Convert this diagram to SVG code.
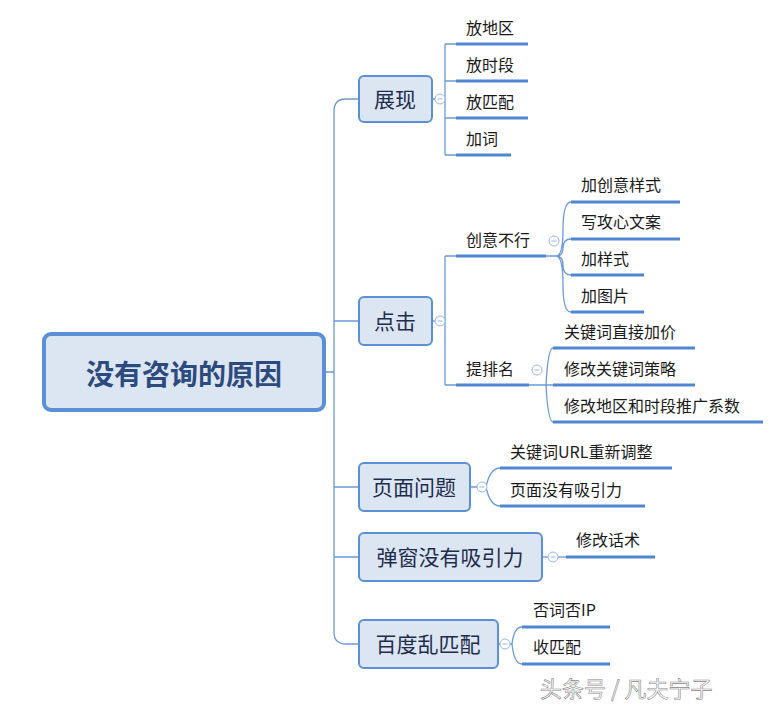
<svg xmlns="http://www.w3.org/2000/svg" width="773" height="712" viewBox="0 0 773 712">
<defs>
<g id="m"><circle r="5" fill="#fff" stroke="#9db5e0" stroke-width="1"/><line x1="-2.5" y1="0" x2="2.5" y2="0" stroke="#9db5e0" stroke-width="1"/></g>
</defs>
<style>
.c{fill:none;stroke:#6a9ad8;stroke-width:1.3}
.u{stroke:#4f86d2;stroke-width:3}
.b{fill:#dce6f2;stroke:#5b8fd6;stroke-width:2}
.t{font-family:"Microsoft YaHei","Noto Sans CJK SC",sans-serif;font-size:16px;fill:#1a1a1a}
.l{font-family:"Microsoft YaHei","Noto Sans CJK SC",sans-serif;font-size:21px;fill:#1f2d4d;text-anchor:middle}
</style>
<rect width="773" height="712" fill="#fff"/>
<g id="connectors">
<path class="c" d="M324,372H334M359,99H346Q334,99 334,111V632Q334,644 346,644H359M334,321H359M334,487H359M334,557H359"/>
<path class="c" d="M432,99H445M445,44V155M445,44H456M445,81H456M445,118H456M445,155H456"/>
<path class="c" d="M432,321H445M445,256V385M445,256H456M445,385H456"/>
<path class="c" d="M546,256H556M556,256Q563,256 563,230Q563,202 571,202M556,256Q563,256 563,248Q563,239 571,239M556,256Q563,256 563,265Q563,275 571,275M556,256Q563,256 563,285Q563,312 571,312"/>
<path class="c" d="M529,385H546M546,385Q548,348 553,348M546,385H553M546,385Q548,422 553,422"/>
<path class="c" d="M470,487H486M486,487Q490,468 500,468M486,487Q490,506 500,506"/>
<path class="c" d="M542,557H566"/>
<path class="c" d="M498,644H512M512,644Q514,627 522,627M512,644Q514,664 522,664"/>
</g>
<g id="root">
<rect x="44" y="334" width="280" height="76" rx="7" fill="#dce6f2" stroke="#5b8fd6" stroke-width="4"/>
<text x="184" y="385" text-anchor="middle" font-family="Microsoft YaHei,'Noto Sans CJK SC',sans-serif" font-size="28" font-weight="bold" fill="#2c4a7e">没有咨询的原因</text>
</g>
<g id="n-zhanxian"><rect class="b" x="359" y="76" width="73" height="46" rx="5"/><text class="l" x="395" y="107">展现</text><use href="#m" x="440" y="99"/></g>
<g id="n-dianji"><rect class="b" x="359" y="297" width="73" height="48" rx="5"/><text class="l" x="395" y="329">点击</text><use href="#m" x="440" y="321"/></g>
<g id="n-yemian"><rect class="b" x="359" y="463" width="111" height="48" rx="5"/><text class="l" x="414" y="495">页面问题</text><use href="#m" x="482" y="487"/></g>
<g id="n-tanchuang"><rect class="b" x="359" y="533" width="183" height="48" rx="5"/><text class="l" x="450" y="565">弹窗没有吸引力</text><use href="#m" x="553" y="557"/></g>
<g id="n-baidu"><rect class="b" x="359" y="620" width="139" height="48" rx="5"/><text class="l" x="428" y="652">百度乱匹配</text><use href="#m" x="505" y="644"/></g>
<g id="leaves">
<text class="t" x="466" y="34">放地区</text><line class="u" x1="456" y1="44" x2="528" y2="44"/>
<text class="t" x="466" y="71">放时段</text><line class="u" x1="456" y1="81" x2="528" y2="81"/>
<text class="t" x="466" y="108">放匹配</text><line class="u" x1="456" y1="118" x2="528" y2="118"/>
<text class="t" x="466" y="145">加词</text><line class="u" x1="456" y1="155" x2="511" y2="155"/>
<text class="t" x="466" y="246">创意不行</text><line class="u" x1="456" y1="256" x2="546" y2="256"/><use href="#m" x="554" y="241"/>
<text class="t" x="466" y="375">提排名</text><line class="u" x1="456" y1="385" x2="529" y2="385"/><use href="#m" x="537" y="370"/>
<text class="t" x="581" y="191">加创意样式</text><line class="u" x1="571" y1="202" x2="680" y2="202"/>
<text class="t" x="581" y="228">写攻心文案</text><line class="u" x1="571" y1="239" x2="680" y2="239"/>
<text class="t" x="581" y="265">加样式</text><line class="u" x1="571" y1="275" x2="644" y2="275"/>
<text class="t" x="581" y="302">加图片</text><line class="u" x1="571" y1="312" x2="644" y2="312"/>
<text class="t" x="564" y="338">关键词直接加价</text><line class="u" x1="553" y1="348" x2="695" y2="348"/>
<text class="t" x="564" y="375">修改关键词策略</text><line class="u" x1="553" y1="385" x2="695" y2="385"/>
<text class="t" x="564" y="412">修改地区和时段推广系数</text><line class="u" x1="553" y1="422" x2="763" y2="422"/>
<text class="t" x="510" y="458">关键词URL重新调整</text><line class="u" x1="500" y1="468" x2="672" y2="468"/>
<text class="t" x="510" y="496">页面没有吸引力</text><line class="u" x1="500" y1="506" x2="645" y2="506"/>
<text class="t" x="576" y="546">修改话术</text><line class="u" x1="566" y1="557" x2="655" y2="557"/>
<text class="t" x="533" y="616">否词否IP</text><line class="u" x1="522" y1="627" x2="610" y2="627"/>
<text class="t" x="533" y="653">收匹配</text><line class="u" x1="522" y1="664" x2="610" y2="664"/>
</g>
<text x="540" y="697" font-family="'Noto Sans CJK SC',sans-serif" font-size="22" fill="#fff" stroke="#888" stroke-width="0.6">头条号 / 凡夫宁子</text>
</svg>
